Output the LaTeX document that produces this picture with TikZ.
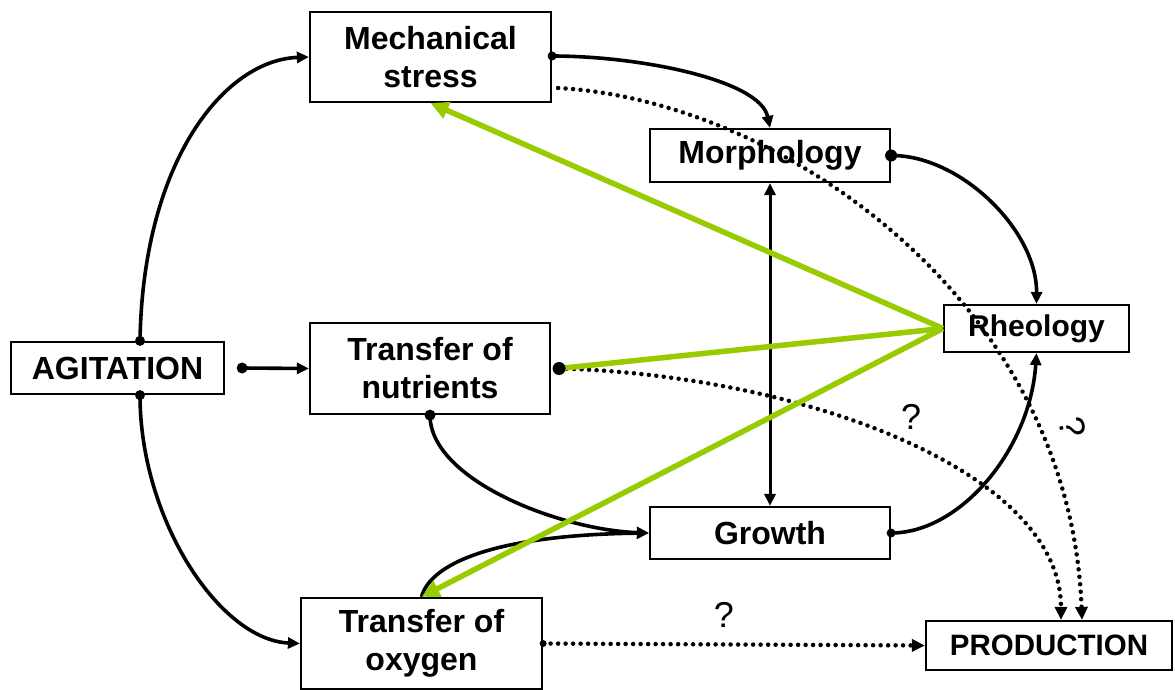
\documentclass[tikz,border=0pt]{standalone}
\usepackage{fontspec}
\setmainfont{Liberation Sans}
\usetikzlibrary{arrows.meta}
\definecolor{limegreen}{RGB}{153,204,0}
\tikzset{
 box/.style={draw, line width=2.2pt, inner sep=0pt, align=center, font=\fontsize{32}{38}\selectfont\bfseries},
 conn/.style={line width=3.6pt, -{Triangle[length=12pt,width=11pt]}},
 dotline/.style={line width=4.5pt, dash pattern=on 0pt off 7.5pt, line cap=round, -{Triangle[length=13pt,width=12pt]}},
 greenline/.style={draw=limegreen, line width=5.5pt},
 greenarrow/.style={greenline, -{Triangle[length=18pt,width=17pt]}},
 qmark/.style={font=\fontsize{36}{36}\selectfont},
}
\begin{document}
\begin{tikzpicture}[x=1pt,y=-1pt]
\useasboundingbox[fill=white] (0,0) rectangle (1175,690);
% boxes
\node[box, minimum width=241pt, minimum height=90pt] (mech) at (430.5,57) {Mechanical\\stress};
\node[box, minimum width=240pt, minimum height=53pt] (morph) at (770,155.5) {Morphology};
\node[box, minimum width=185pt, minimum height=47pt, font=\fontsize{30}{35}\selectfont\bfseries] (rheo) at (1036.5,328.5) {Rheology};
\node[box, minimum width=213pt, minimum height=52pt] (agit) at (117.5,368) {AGITATION};
\node[box, minimum width=240pt, minimum height=91pt] (nutr) at (430,368.5) {Transfer of\\nutrients};
\node[box, minimum width=240pt, minimum height=52pt] (growth) at (770,533) {Growth};
\node[box, minimum width=241pt, minimum height=91pt] (oxy) at (421.5,643.5) {Transfer of\\oxygen};
\node[box, minimum width=246pt, minimum height=49pt, font=\fontsize{29.5}{35}\selectfont\bfseries] (prod) at (1049,645.5) {PRODUCTION};
% anchor coordinates
\coordinate (agitN) at ([shift={(22.5,0)}]agit.north);
\coordinate (agitS) at ([shift={(22.5,0)}]agit.south);
\coordinate (agitR) at ([shift={(17,0)}]agit.east);
\coordinate (mechR) at ([shift={(0,-1)}]mech.east);
\coordinate (mechD) at ([shift={(6,31)}]mech.east);
\coordinate (nutrR) at ([shift={(8,0)}]nutr.east);
\coordinate (prodA) at ([shift={(12,0)}]prod.north);
\coordinate (prodB) at ([shift={(33,0)}]prod.north);
% black connectors
\draw[conn] (agitN) .. controls (143,160) and (225,60) .. (mech.west);
\draw[conn] (agitS) .. controls (140,520) and (220,640) .. (oxy.west);
\draw[conn] (agitR) -- (nutr.west);
\draw[conn] (mechR) .. controls (640,56) and (760,80) .. (morph.north);
\draw[conn] (morph.east) .. controls (960,155) and (1037,230) .. (rheo.north);
\draw[line width=3pt, {Triangle[length=12pt,width=11pt]}-{Triangle[length=12pt,width=11pt]}] (morph.south) -- (growth.north);
\draw[conn] (growth.east) .. controls (960,533) and (1030,450) .. (rheo.south);
\draw[conn] (nutr.south) .. controls (430,480) and (560,530) .. (growth.west);
\draw[conn] (oxy.north) .. controls (430,565) and (490,535) .. (growth.west);
% dotted connectors
\draw[dotline] (mechD) .. controls (780,100) and (1070,300) .. (prodB);
\draw[dotline] (nutrR) .. controls (800,375) and (1061,470) .. (prodA);
\draw[dotline] (oxy.east) -- (prod.west);
% green connectors
\draw[greenarrow] (rheo.west) -- (mech.south);
\draw[greenline] (rheo.west) -- (nutrR);
\draw[greenarrow] (rheo.west) -- (oxy.north);
% start dots
\fill (agitN) circle (5pt);
\fill (agitS) circle (5pt);
\fill (agitR) circle (5.5pt);
\fill (mechR) circle (4.5pt);
\fill (morph.east) circle (6pt);
\fill (growth.east) circle (4.5pt);
\fill (nutr.south) circle (5.5pt);
\fill (nutrR) circle (6.5pt);
\fill (oxy.east) circle (3.5pt);
% question marks
\node[qmark] (q1) at (911,417) {?};
\node[qmark] (q2) at (724,615) {?};
\node[qmark, rotate=-80] (q3) at (1073,427) {?};
\end{tikzpicture}
\end{document}
